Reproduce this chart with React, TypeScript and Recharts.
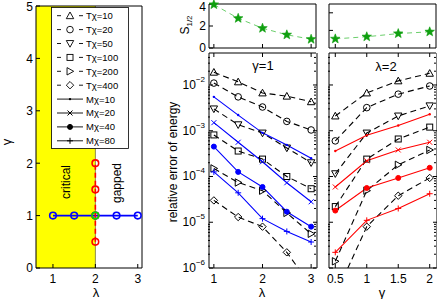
import React from 'react';
import { ComposedChart, Line, XAxis, YAxis, ReferenceArea, ReferenceLine } from 'recharts';

const W = 437;
const H = 299;
const FONT = '"Liberation Sans", Arial, Helvetica, sans-serif';

// phase diagram points
const PHASE_LAMBDA = [1, 1.5, 2, 2.5, 3];
const PHASE_GAMMA = [0.5, 1, 1.5, 2];

// scan parameters
const LAMBDAS = [1, 1.5, 2, 2.5, 3];
const GAMMAS = [0.5, 1, 1.5, 2];

// half-chain entropy
const S_VS_LAMBDA = [3.95, 2.7, 1.8, 1.2, 0.8];
const S_VS_GAMMA = [1.76, 1.82, 1.91, 1.96];

// relative error of energy, gamma = 1
const T10_L = [1.9e-2, 1.17e-2, 6.7e-3, 5.7e-3, 4.3e-3];
const T20_L = [1.1e-2, 5.5e-3, 3.3e-3, 1.6e-3, 1.04e-3];
const T50_L = [3.0e-3, 1.35e-3, 8.9e-4, 4.2e-4, 2.0e-4];
const T100_L = [8.1e-4, 3.6e-4, 2.4e-4, 1.0e-4, 5.4e-5];
const T200_L = [1.5e-4, 7.4e-5, 4.9e-5, 1.6e-5, 5.6e-6];
const T400_L = [3.0e-5, 1.3e-5, 8.0e-6, 2.2e-6, 4.0e-7];
const M10_L = [5.5e-3, 2.2e-3, 9.0e-4, 4.9e-4, 2.5e-4];
const M20_L = [1.5e-3, 5.6e-4, 2.1e-4, 7.3e-5, 2.8e-5];
const M40_L = [4.5e-4, 1.26e-4, 5.9e-5, 1.7e-5, 8.0e-6];
const M80_L = [1.26e-4, 4.4e-5, 1.2e-5, 6.3e-6, 3.7e-6];

// relative error of energy, lambda = 2
const T10_G = [2.1e-3, 6.7e-3, 1.23e-2, 1.8e-2];
const T20_G = [6.0e-4, 3.2e-3, 6.3e-3, 9.5e-3];
const T50_G = [1.15e-4, 8.9e-4, 2.1e-3, 3.5e-3];
const T100_G = [2.2e-5, 2.4e-4, 6.6e-4, 1.2e-3];
const T200_G = [1.4e-6, 4.9e-5, 1.8e-4, 3.8e-4];
const T400_G = [2.5e-7, 8.0e-6, 3.8e-5, 9.3e-5];
const M10_G = [3.6e-4, 8.0e-4, 1.3e-3, 2.3e-3];
const M20_G = [5.9e-5, 2.2e-4, 3.8e-4, 5.6e-4];
const M40_G = [1.8e-5, 5.6e-5, 9.3e-5, 1.55e-4];
const M80_G = [2.2e-6, 1.1e-5, 2.0e-5, 4.2e-5];

const DECADES = [1e-6, 1e-5, 1e-4, 1e-3, 1e-2];
const MINOR = DECADES.flatMap((d) => [2, 3, 4, 5, 6, 7, 8, 9].map((m) => m * d)).filter((v) => v < 0.05);

type Shape = 'triUp' | 'circle' | 'triDown' | 'square' | 'triRight' | 'diamond' | 'point' | 'cross' | 'disc' | 'plus' | 'star';

const T_SERIES: { name: string; shape: Shape; lam: number[]; gam: number[] }[] = [
  { name: 'Tχ=10', shape: 'triUp', lam: T10_L, gam: T10_G },
  { name: 'Tχ=20', shape: 'circle', lam: T20_L, gam: T20_G },
  { name: 'Tχ=50', shape: 'triDown', lam: T50_L, gam: T50_G },
  { name: 'Tχ=100', shape: 'square', lam: T100_L, gam: T100_G },
  { name: 'Tχ=200', shape: 'triRight', lam: T200_L, gam: T200_G },
  { name: 'Tχ=400', shape: 'diamond', lam: T400_L, gam: T400_G },
];

const M_SERIES: { name: string; shape: Shape; lam: number[]; gam: number[] }[] = [
  { name: 'Mχ=10', shape: 'point', lam: M10_L, gam: M10_G },
  { name: 'Mχ=20', shape: 'cross', lam: M20_L, gam: M20_G },
  { name: 'Mχ=40', shape: 'disc', lam: M40_L, gam: M40_G },
  { name: 'Mχ=80', shape: 'plus', lam: M80_L, gam: M80_G },
];

const rowsOf = (xs: number[], vs: number[]) => xs.map((x, i) => ({ x, v: vs[i] }));

function Marker({ shape, cx, cy, color, sw = 1 }: { shape: Shape; cx: number; cy: number; color: string; sw?: number }) {
  const s = 3.7;
  const c = { fill: 'none', stroke: color, strokeWidth: sw };
  switch (shape) {
    case 'triUp':
      return <polygon points={`${cx},${cy - s} ${cx + s},${cy + s * 0.8} ${cx - s},${cy + s * 0.8}`} {...c} />;
    case 'triDown':
      return <polygon points={`${cx},${cy + s} ${cx + s},${cy - s * 0.8} ${cx - s},${cy - s * 0.8}`} {...c} />;
    case 'triRight':
      return <polygon points={`${cx + s},${cy} ${cx - s * 0.8},${cy - s} ${cx - s * 0.8},${cy + s}`} {...c} />;
    case 'square':
      return <rect x={cx - 3} y={cy - 3} width={6} height={6} {...c} />;
    case 'diamond':
      return <polygon points={`${cx},${cy - s} ${cx + s},${cy} ${cx},${cy + s} ${cx - s},${cy}`} {...c} />;
    case 'circle':
      return <circle cx={cx} cy={cy} r={3.3} {...c} />;
    case 'point':
      return <circle cx={cx} cy={cy} r={1.2} fill={color} />;
    case 'disc':
      return <circle cx={cx} cy={cy} r={2.5} fill={color} stroke={color} />;
    case 'cross':
      return (
        <g stroke={color} strokeWidth={1}>
          <line x1={cx - 2.5} y1={cy - 2.5} x2={cx + 2.5} y2={cy + 2.5} />
          <line x1={cx - 2.5} y1={cy + 2.5} x2={cx + 2.5} y2={cy - 2.5} />
        </g>
      );
    case 'plus':
      return (
        <g stroke={color} strokeWidth={1}>
          <line x1={cx - 3} y1={cy} x2={cx + 3} y2={cy} />
          <line x1={cx} y1={cy - 3} x2={cx} y2={cy + 3} />
        </g>
      );
    case 'star': {
      const pts: string[] = [];
      for (let k = 0; k < 10; k++) {
        const r = k % 2 === 0 ? 5 : 2.1;
        const a = -Math.PI / 2 + (k * Math.PI) / 5;
        pts.push(`${cx + r * Math.cos(a)},${cy + r * Math.sin(a)}`);
      }
      return <polygon points={pts.join(' ')} fill={color} stroke={color} strokeWidth={0.6} />;
    }
  }
  return null;
}

const dotOf = (shape: Shape, color: string, sw = 1) => (p: any) => {
  if (p.cx == null || p.cy == null) return <g key={`e${p.index}`} />;
  return (
    <g key={`m${p.index}`}>
      <Marker shape={shape} cx={p.cx} cy={p.cy} color={color} sw={sw} />
    </g>
  );
};

type Box = { left: number; right: number; top: number; bottom: number };
// every axis takes 1px; the extra log axes add one more on each side
const marginOf = (b: Box, extra = 0) => ({
  left: b.left - 1 - extra,
  top: b.top - 1,
  right: W - b.right - 1 - extra,
  bottom: H - b.bottom - 1,
});

const TICK_STYLE = { fontSize: 12, fill: '#000', fontFamily: FONT };
const blank = () => '';

function LogTick(props: any) {
  const { x, y, payload } = props;
  const e = Math.round(Math.log10(payload.value));
  return (
    <text x={x} y={y + 4} textAnchor="end" fontSize={12} fill="#000" fontFamily={FONT}>
      10
      <tspan dy={-7} fontSize={8}>
        {'\u2212' + Math.abs(e)}
      </tspan>
    </text>
  );
}

// plain y tick, kept inside the page at the top edge
function LinTick(props: any) {
  const { x, y, payload } = props;
  return (
    <text x={x} y={Math.max(y, 6.5) + 4.3} textAnchor="end" fontSize={12} fill="#000" fontFamily={FONT}>
      {payload.value}
    </text>
  );
}

function frameAxes(o: {
  xDomain: number[];
  xTicks: number[];
  xLabels: boolean;
  yDomain: number[];
  yTicks: number[];
  yLabels: boolean;
  log?: boolean;
  clip?: boolean;
}) {
  const scale = o.log ? 'log' : 'auto';
  const clip = !!o.clip;
  const items = [
    <XAxis key="xb" xAxisId={0} dataKey="x" type="number" domain={o.xDomain} ticks={o.xTicks} interval={0}
      height={1} tickSize={-4} tickMargin={10} tick={TICK_STYLE} tickFormatter={o.xLabels ? undefined : blank}
      stroke="#000" allowDataOverflow={clip} />,
    <XAxis key="xt" xAxisId="top" orientation="top" dataKey="x" type="number" domain={o.xDomain} ticks={o.xTicks}
      interval={0} height={1} tickSize={-4} tickFormatter={blank} stroke="#000" allowDataOverflow={clip} />,
    <YAxis key="yl" yAxisId={0} type="number" scale={scale} domain={o.yDomain} ticks={o.yTicks} interval={0}
      width={1} tickSize={-4} tickMargin={o.log ? 8 : 7}
      tick={o.yLabels ? (o.log ? <LogTick /> : <LinTick />) : TICK_STYLE}
      tickFormatter={o.yLabels ? undefined : blank} stroke="#000" allowDataOverflow={clip} />,
    <YAxis key="yr" yAxisId="right" orientation="right" type="number" scale={scale} domain={o.yDomain} ticks={o.yTicks}
      interval={0} width={1} tickSize={-4} tickFormatter={blank} stroke="#000" allowDataOverflow={clip} />,
  ];
  if (o.log) {
    items.push(
      <YAxis key="ml" yAxisId="minL" type="number" scale="log" domain={o.yDomain} ticks={MINOR} interval={0}
        width={1} tickSize={-2} tickFormatter={blank} axisLine={false} stroke="#000" allowDataOverflow />,
      <YAxis key="mr" yAxisId="minR" orientation="right" type="number" scale="log" domain={o.yDomain} ticks={MINOR}
        interval={0} width={1} tickSize={-2} tickFormatter={blank} axisLine={false} stroke="#000" allowDataOverflow />
    );
  }
  return items;
}

const P1: Box = { left: 36, right: 142, top: 6, bottom: 268 };
const P2: Box = { left: 209, right: 316, top: 4, bottom: 48 };
const P3: Box = { left: 329, right: 436, top: 4, bottom: 48 };
const P4: Box = { left: 209, right: 316, top: 53, bottom: 268 };
const P5: Box = { left: 329, right: 436, top: 53, bottom: 268 };

const LOG_DOMAIN = [1e-6, 0.05];

function Abs({ children }: { children: React.ReactNode }) {
  return <div style={{ position: 'absolute', left: 0, top: 0 }}>{children}</div>;
}

function PhasePanel() {
  return (
    <ComposedChart width={W} height={H} margin={marginOf(P1)}>
      <ReferenceArea x1={0.6} x2={2} y1={0} y2={5} fill="#ffff00" fillOpacity={1} stroke="none" />
      <ReferenceLine x={2} stroke="#8c8c50" strokeWidth={1} />
      {frameAxes({ xDomain: [0.6, 3.1], xTicks: [1, 2, 3], xLabels: true, yDomain: [0, 5], yTicks: [0, 1, 2, 3, 4, 5], yLabels: true })}
      <Line data={PHASE_LAMBDA.map((x) => ({ x, v: 1 }))} dataKey="v" stroke="#0000ff" strokeWidth={1.6}
        dot={dotOf('circle', '#0000ff', 1.6)} isAnimationActive={false} />
      <Line data={PHASE_GAMMA.map((g) => ({ x: 2, v: g }))} dataKey="v" stroke="#ff0000" strokeWidth={1.6}
        strokeDasharray="5 3" dot={dotOf('circle', '#ff0000', 1.6)} isAnimationActive={false} />
      <Line data={[{ x: 2, v: 1 }]} dataKey="v" stroke="none" dot={dotOf('circle', '#00e000', 1.6)} isAnimationActive={false} />
    </ComposedChart>
  );
}

function EntropyPanel({ box, xs, vs, xDomain, xTicks, yDomain, yTicks, yLabels }: any) {
  return (
    <ComposedChart width={W} height={H} margin={marginOf(box)}>
      {frameAxes({ xDomain, xTicks, xLabels: false, yDomain, yTicks, yLabels })}
      <Line data={rowsOf(xs, vs)} dataKey="v" stroke="#6ccf6c" strokeWidth={1} strokeDasharray="5 4"
        dot={dotOf('star', '#0f9f0f')} isAnimationActive={false} />
    </ComposedChart>
  );
}

function ErrorPanel({ box, xs, which, color, xDomain, xTicks, yLabels }: any) {
  return (
    <ComposedChart width={W} height={H} margin={marginOf(box, 1)}>
      {frameAxes({ xDomain, xTicks, xLabels: true, yDomain: LOG_DOMAIN, yTicks: DECADES, yLabels, log: true, clip: true })}
      {T_SERIES.map((s) => (
        <Line key={s.name} data={rowsOf(xs, s[which as 'lam' | 'gam'])} dataKey="v" stroke="#000" strokeWidth={1.1}
          strokeDasharray="6 4" dot={dotOf(s.shape, '#000')} isAnimationActive={false} />
      ))}
      {M_SERIES.map((s) => (
        <Line key={s.name} data={rowsOf(xs, s[which as 'lam' | 'gam'])} dataKey="v" stroke={color} strokeWidth={1.1}
          dot={dotOf(s.shape, color)} isAnimationActive={false} />
      ))}
    </ComposedChart>
  );
}

function LegendBox() {
  const rows = [...T_SERIES, ...M_SERIES];
  return (
    <svg width={W} height={H} style={{ position: 'absolute', left: 0, top: 0 }}>
      <rect x={51.5} y={7.5} width={77} height={141} fill="#fff" stroke="#000" strokeWidth={0.8} />
      {rows.map((s, i) => {
        const y = 15.7 + i * 13.9;
        const dashed = i < T_SERIES.length;
        return (
          <g key={s.name}>
            <line x1={57} y1={y} x2={83} y2={y} stroke="#000" strokeWidth={0.9} strokeDasharray={dashed ? '4 18 4' : undefined} />
            <Marker shape={s.shape} cx={70} cy={y} color="#000" sw={0.9} />
            <text x={86} y={y + 3.4} fontSize={9.5} fontFamily={FONT} fill="#000">
              {s.name}
            </text>
          </g>
        );
      })}
    </svg>
  );
}

function Annotations() {
  const t = { fontFamily: FONT, fill: '#000', textAnchor: 'middle' as const };
  return (
    <svg width={W} height={H} style={{ position: 'absolute', left: 0, top: 0 }}>
      <text {...t} fontSize={12} transform="translate(70,182) rotate(-90)">critical</text>
      <text {...t} fontSize={12} transform="translate(121,183) rotate(-90)">gapped</text>
      <text {...t} fontSize={13} transform="translate(11,142) rotate(-90)">γ</text>
      <text {...t} fontSize={13} x={96} y={297}>λ</text>
      <text {...t} fontSize={13} x={262} y={297}>λ</text>
      <text {...t} fontSize={13} x={382} y={297}>γ</text>
      <text {...t} fontSize={12} transform="translate(177,162) rotate(-90)">relative error of energy</text>
      <text {...t} fontSize={12} transform="translate(189,25) rotate(-90)">
        S<tspan fontSize={8} dy={3}>1/2</tspan>
      </text>
      <text {...t} fontSize={13} x={263} y={70}>γ=1</text>
      <text {...t} fontSize={13} x={386} y={71}>λ=2</text>
    </svg>
  );
}

export default function App() {
  return (
    <div style={{ position: 'absolute', left: 0, top: 0, width: W, height: H, background: '#fff', fontFamily: FONT }}>
      <Abs>
        <PhasePanel />
      </Abs>
      <LegendBox />
      <Abs>
        <EntropyPanel box={P2} xs={LAMBDAS} vs={S_VS_LAMBDA} xDomain={[0.9, 3.1]} xTicks={[1, 2, 3]}
          yDomain={[0, 4]} yTicks={[0, 2, 4]} yLabels={true} />
      </Abs>
      <Abs>
        <EntropyPanel box={P3} xs={GAMMAS} vs={S_VS_GAMMA} xDomain={[0.4, 2.1]} xTicks={[0.5, 1, 1.5, 2]}
          yDomain={[1.5, 2.75]} yTicks={[2, 2.5]} yLabels={false} />
      </Abs>
      <Abs>
        <ErrorPanel box={P4} xs={LAMBDAS} which="lam" color="#0000ff" xDomain={[0.9, 3.1]} xTicks={[1, 2, 3]} yLabels={true} />
      </Abs>
      <Abs>
        <ErrorPanel box={P5} xs={GAMMAS} which="gam" color="#ff0000" xDomain={[0.4, 2.1]} xTicks={[0.5, 1, 1.5, 2]} yLabels={false} />
      </Abs>
      <Annotations />
    </div>
  );
}
